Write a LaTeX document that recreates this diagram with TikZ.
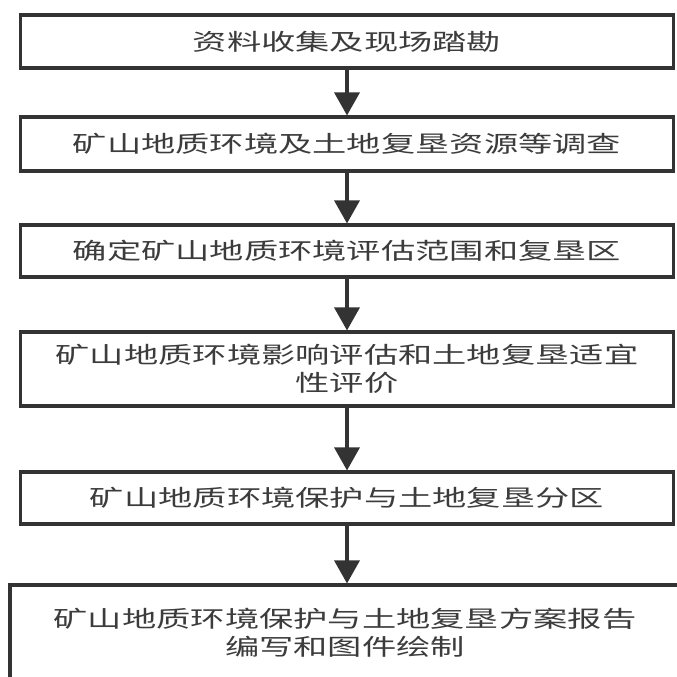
\documentclass[tikz,border=0pt]{standalone}
\usepackage{fontspec}
\setmainfont{Noto Sans CJK SC}[FakeStretch=1.5]
\usepackage{tikz}
\usetikzlibrary{arrows.meta,positioning}
\definecolor{boxgray}{HTML}{333333}
\definecolor{textgray}{HTML}{3C3C3C}
\tikzset{
  stage/.style={draw=boxgray,line width=2.6pt,fill=white,align=center,minimum width=19.6cm,inner sep=4pt,text=textgray,font=\fontsize{19.5pt}{24pt}\selectfont},
  flow/.style={-{Triangle[length=.69cm,width=.75cm]},line width=2.8pt,draw=boxgray},
}

\begin{document}
\begin{tikzpicture}
    \useasboundingbox (0,0) rectangle (20.28,-20.31);
    \node[stage,minimum height=1.59cm] (s1) at (10.41,-1.245) {资料收集及现场踏勘};
    \node[stage,minimum height=1.62cm] (s2) at (10.41,-4.32) {矿山地质环境及土地复垦资源等调查};
    \node[stage,minimum height=1.56cm] (s3) at (10.41,-7.53) {确定矿山地质环境评估范围和复垦区};
    \node[stage,minimum height=2.22cm] (s4) at (10.41,-11.07) {矿山地质环境影响评估和土地复垦适宜\\性评价};
    \node[stage,minimum height=1.56cm] (s5) at (10.41,-14.94) {矿山地质环境保护与土地复垦分区};
    \node[stage,minimum width=20.1cm,minimum height=2.88cm] (s6) at (10.35,-18.99) {矿山地质环境保护与土地复垦方案报告\\编写和图件绘制};
    \foreach \a/\b in {s1/s2,s2/s3,s3/s4,s4/s5,s5/s6}{\draw[flow] (\a.south)--(\a.south |- \b.north);}
  \end{tikzpicture}
\end{document}
